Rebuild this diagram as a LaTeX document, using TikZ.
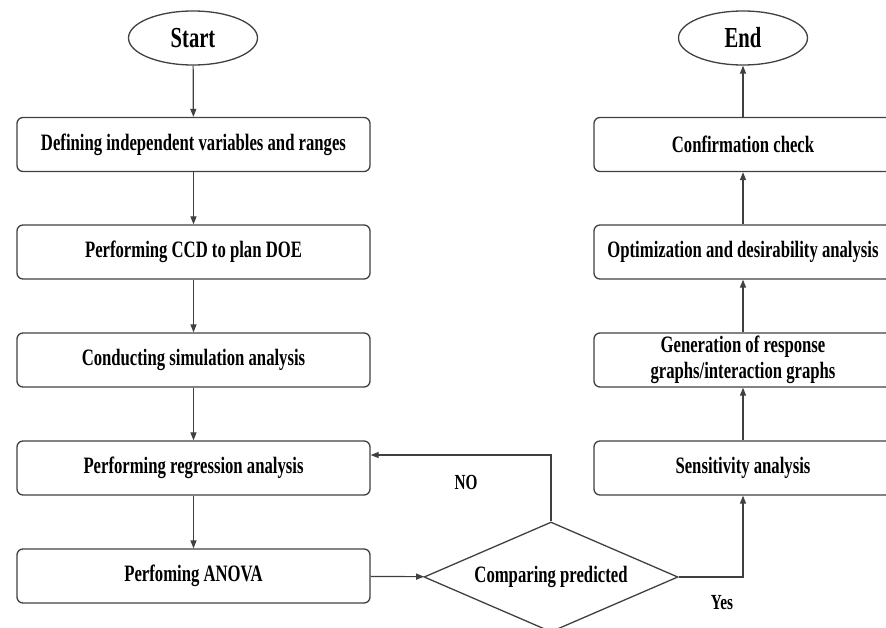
\documentclass[tikz,border=0pt]{standalone}
\usepackage{fontspec}
\setmainfont{Liberation Serif}
\newfontfamily\cf[FakeStretch=0.71]{Liberation Serif}
\usetikzlibrary{shapes.geometric,arrows.meta}
\begin{document}
\begin{tikzpicture}[x=1pt,y=-1pt,
  box/.style={draw=black!75, line width=1.3pt, rounded corners=6pt, minimum width=353pt, minimum height=54pt, inner sep=0pt, align=center, font=\cf\bfseries\fontsize{23.5}{26}\selectfont},
  rbox/.style={box, minimum width=298pt},
  term/.style={ellipse, draw=black!75, line width=1.3pt, minimum width=129pt, minimum height=54pt, inner sep=0pt, font=\cf\bfseries\fontsize{29}{30}\selectfont},
  dec/.style={diamond, draw=black!75, line width=1.3pt, aspect=2.3, minimum width=254pt, minimum height=110pt, inner sep=0pt, font=\cf\bfseries\fontsize{23.5}{26}\selectfont},
  lab/.style={font=\cf\bfseries\fontsize{21.5}{24}\selectfont, inner sep=0pt},
  arr/.style={draw=black!75, line width=1.2pt, -{Triangle[length=8pt,width=6pt]}}]
\useasboundingbox (0,0) rectangle (886,627);
\clip (0,0) rectangle (886,627);
% left column
\node[term] (start) at (193,38) {Start};
\node[box] (b1) at (193.5,144.5) {Defining independent variables and ranges};
\node[box] (b2) at (193.5,252) {Performing CCD to plan DOE};
\node[box] (b3) at (193.5,360) {Conducting simulation analysis};
\node[box] (b4) at (193.5,468) {Performing regression analysis};
\node[box] (b5) at (193.5,576) {Perfoming ANOVA};
% decision
\node[dec] (dec) at (551,577) {Comparing predicted};
% right column
\node[term] (end) at (743,38) {End};
\node[rbox] (r1) at (743,144.5) {Confirmation check};
\node[rbox] (r2) at (743,252) {Optimization and desirability analysis};
\node[rbox] (r3) at (743,360) {Generation of response\\graphs/interaction graphs};
\node[rbox] (r4) at (743,468) {Sensitivity analysis};
% labels
\node[lab] (no) at (466,482) {NO};
\node[lab] (yes) at (722,603) {Yes};
\coordinate (noy) at (0,455);
% connectors
\draw[arr] (start) -- (b1);
\draw[arr] (b1) -- (b2);
\draw[arr] (b2) -- (b3);
\draw[arr] (b3) -- (b4);
\draw[arr] (b4) -- (b5);
\draw[arr] (b5) -- (dec);
\draw[arr] (dec.north) |- (b4.east |- noy);
\draw[arr] (dec.east) -| (r4.south);
\draw[arr] (r4) -- (r3);
\draw[arr] (r3) -- (r2);
\draw[arr] (r2) -- (r1);
\draw[arr] (r1) -- (end);
\end{tikzpicture}
\end{document}
